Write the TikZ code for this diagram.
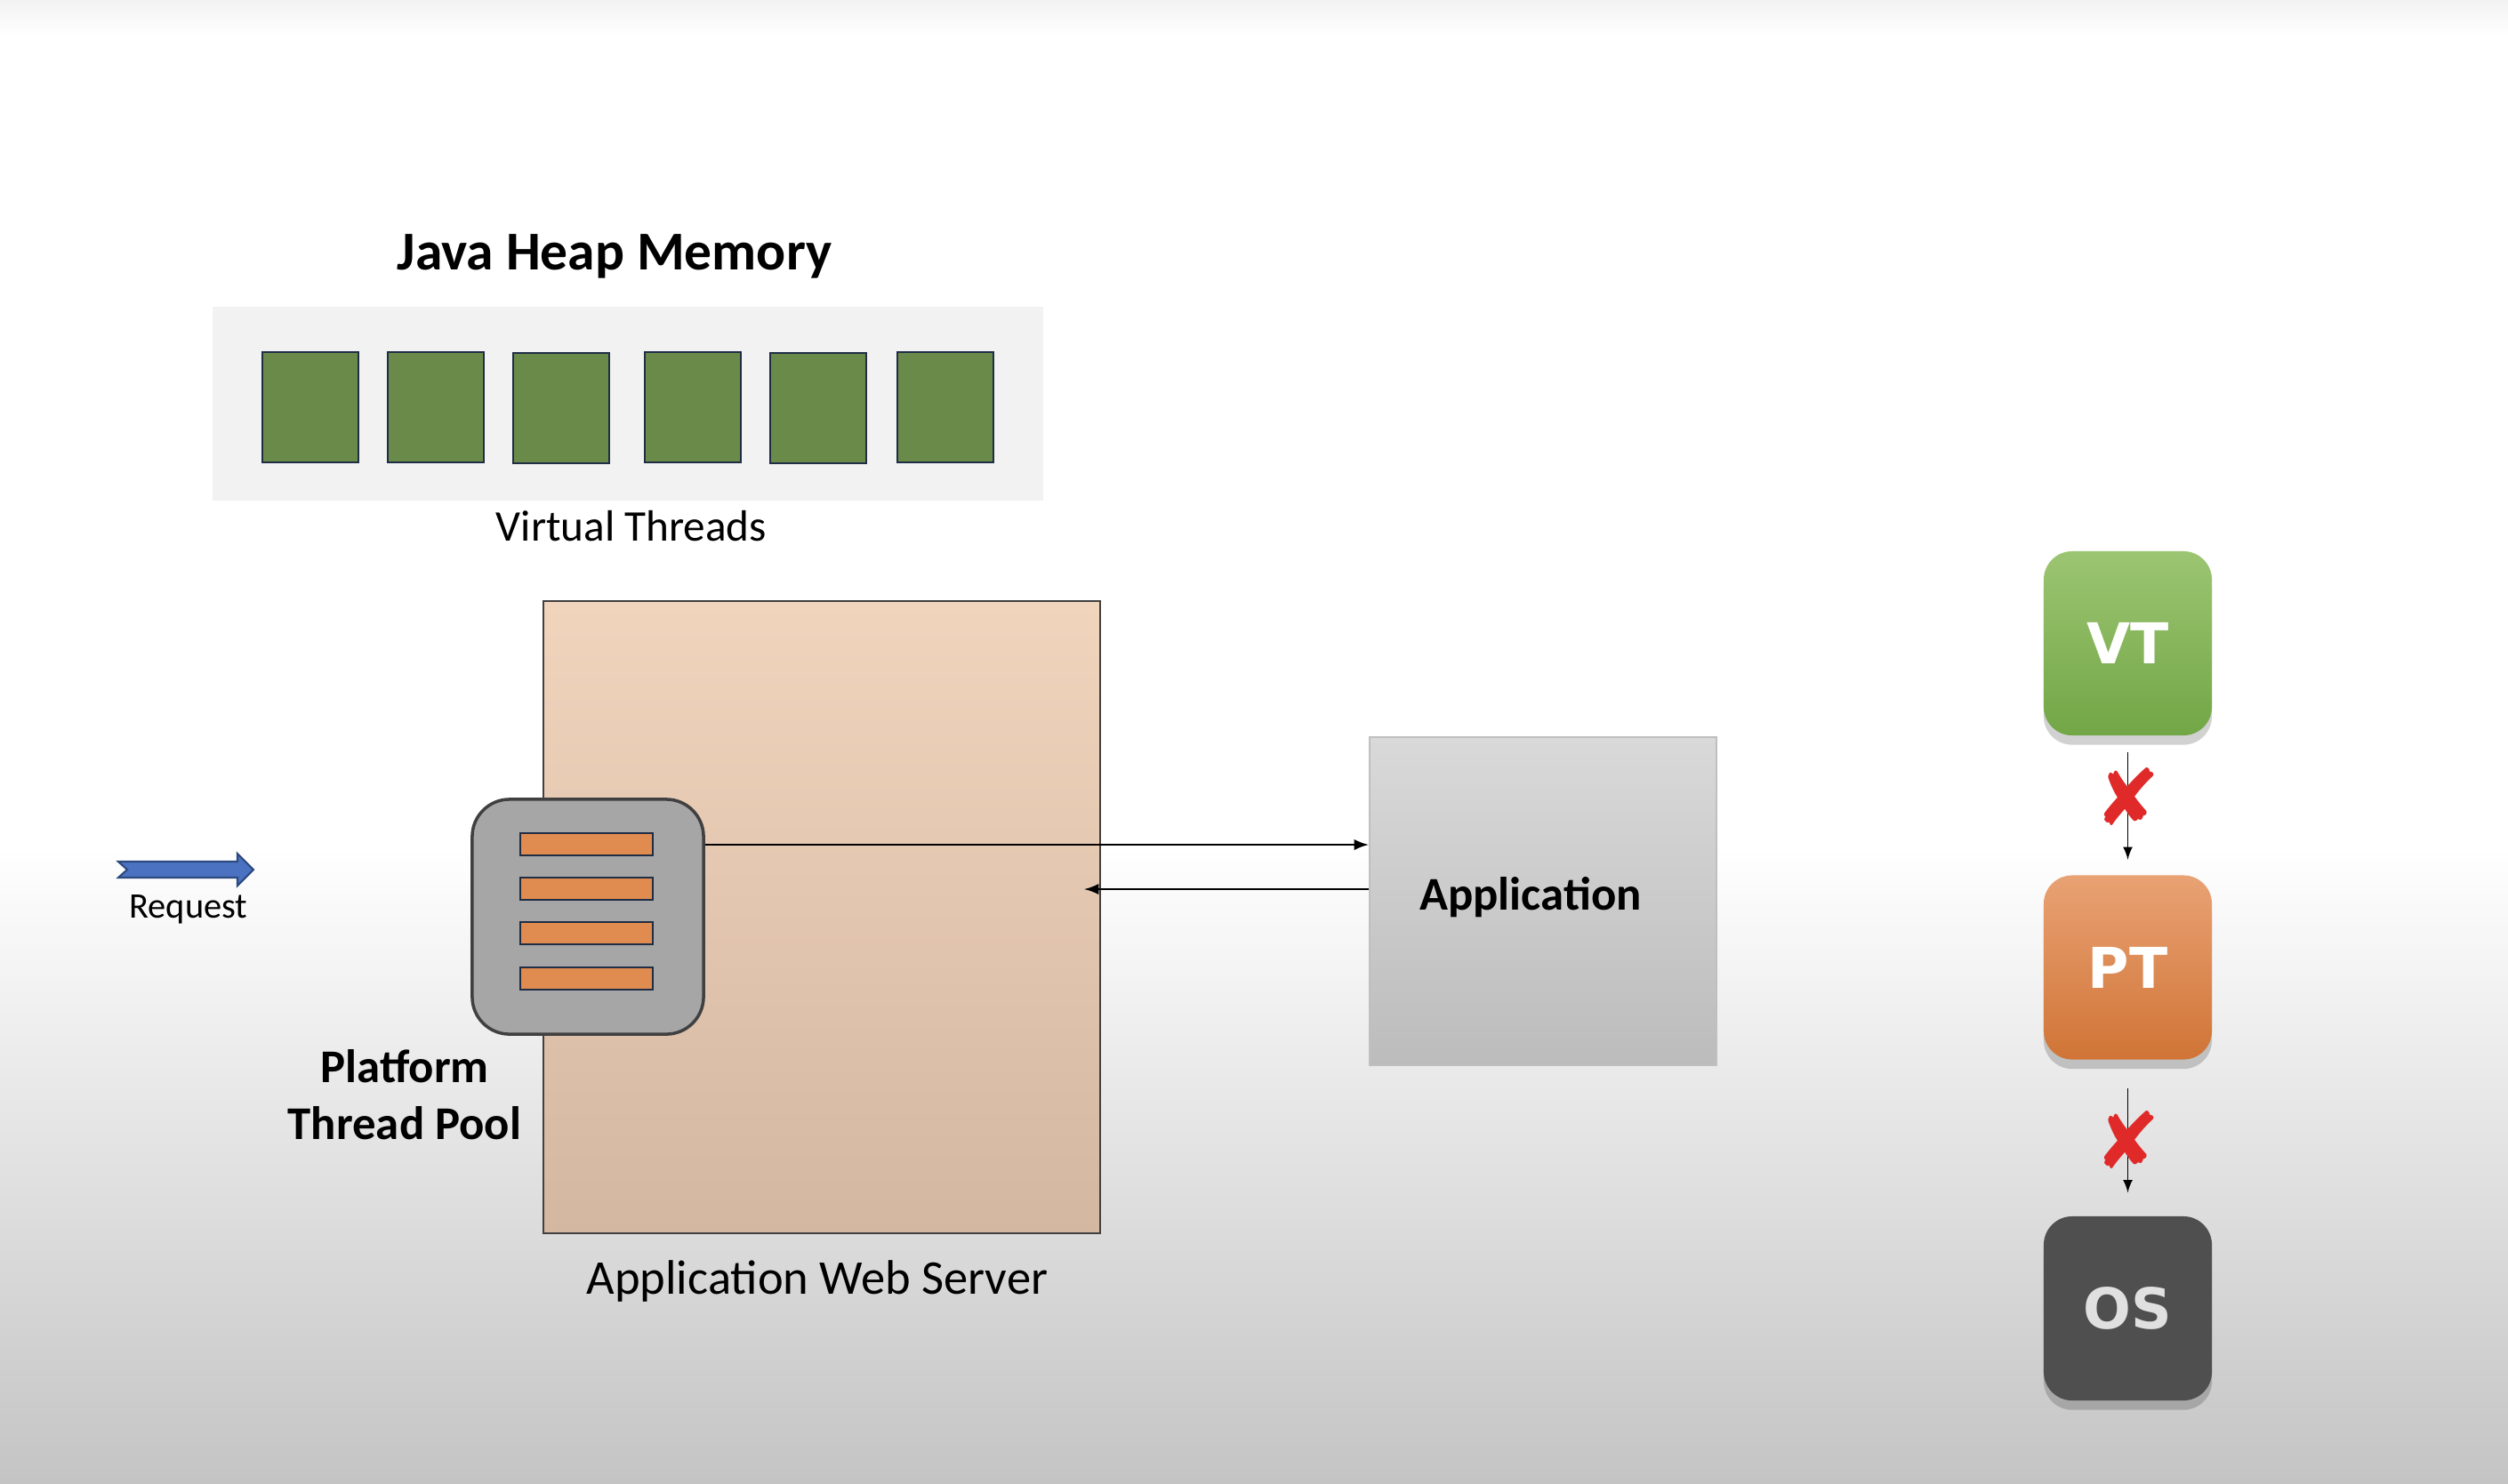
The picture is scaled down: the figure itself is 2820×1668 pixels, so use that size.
\documentclass[tikz,border=0pt]{standalone}
\usepackage{fontspec}
\setmainfont{Carlito}
\newfontfamily\tagfont{DejaVu Sans}
\usetikzlibrary{shadows}

\definecolor{bggray}{HTML}{C4C4C4}
\definecolor{panelgray}{HTML}{F2F2F2}
\definecolor{vtgreen}{HTML}{6A8A4A}
\definecolor{navy}{HTML}{1F2D45}
\definecolor{barorange}{HTML}{E08B50}
\definecolor{pooltone}{HTML}{A6A6A6}
\definecolor{servertop}{HTML}{F1D4BC}
\definecolor{serverbot}{HTML}{D4B7A1}
\definecolor{apptop}{HTML}{D9D9D9}
\definecolor{appbot}{HTML}{BCBCBC}
\definecolor{reqblue}{HTML}{4A72C0}
\definecolor{reqline}{HTML}{2C4A80}
\definecolor{vttop}{HTML}{9CC572}
\definecolor{vtbot}{HTML}{72A646}
\definecolor{pttop}{HTML}{E9A274}
\definecolor{ptbot}{HTML}{D07436}
\definecolor{osgray}{HTML}{4F4F4F}
\definecolor{crossred}{HTML}{E02A2A}

\begin{document}
\begin{tikzpicture}[x=0.01cm, y=-0.01cm,
			every path/.style={>=latex},
			vthread/.style={draw=navy, fill=vtgreen, line width=0.8pt,
				minimum width=1.08cm, minimum height=1.24cm},
			bar/.style={draw=navy, fill=barorange, line width=0.6pt,
				minimum width=1.49cm, minimum height=0.25cm},
			tag/.style={rounded corners=0.32cm, minimum width=1.89cm,
				minimum height=2.07cm, text=white,
				font=\tagfont\bfseries\fontsize{18}{20}\selectfont,
				drop shadow={shadow xshift=0pt, shadow yshift=-3pt,
					opacity=0.18, fill=black}},
			cross/.style={text=crossred, inner sep=0pt,
				font=\tagfont\fontsize{25}{25}\selectfont}]
	% page
	\useasboundingbox (0,0) rectangle (2820,1668);
	\fill[white] (0,0) rectangle (2820,1668);
	\shade[top color=white, bottom color=bggray] (0,950) rectangle (2820,1668);
	\shade[top color=black!5, bottom color=white] (0,0) rectangle (2820,40);

	% heap
	\node[font=\bfseries\fontsize{17.5}{20}\selectfont] (heap) at (691,288) {Java Heap Memory};
	\node[fill=panelgray, minimum width=9.34cm, minimum height=2.18cm] (panel) at (706,454) {};
	\node[vthread] (V1) at (349,458) {};
	\node[vthread] (V2) at (490,458) {};
	\node[vthread] (V3) at (631,459) {};
	\node[vthread] (V4) at (779,458) {};
	\node[vthread] (V5) at (920,459) {};
	\node[vthread] (V6) at (1063,458) {};
	\node[font=\fontsize{14}{16}\selectfont] (vtlabel) at (710,592) {Virtual Threads};

	% server and application
	\node[draw=black!75, line width=0.6pt, top color=servertop, bottom color=serverbot,
		minimum width=6.26cm, minimum height=7.11cm] (server) at (924,1031.5) {};
	\node[font=\fontsize{15.5}{18}\selectfont] (srvlabel) at (919,1441) {Application Web Server};
	\node[draw=black!25, line width=0.6pt, top color=apptop, bottom color=appbot,
		minimum width=3.90cm, minimum height=3.69cm] (app) at (1735,1013.5) {};
	\node[font=\bfseries\fontsize{15}{17}\selectfont] (applabel) at (1721,1009) {Application};

	% thread pool
	\node[draw=black!75, line width=1pt, fill=pooltone, rounded corners=0.42cm,
		minimum width=2.60cm, minimum height=2.64cm] (pool) at (661,1031) {};
	\node[bar] (B1) at (659.5,949.5) {};
	\node[bar] (B2) at (659.5,999.5) {};
	\node[bar] (B3) at (659.5,1049.5) {};
	\node[bar] (B4) at (659.5,1100.5) {};
	\node[font=\bfseries\fontsize{15}{18.2}\selectfont, align=center] (poollabel) at (455,1231)
		{Platform\\Thread Pool};

	\draw[->, line width=0.6pt] (pool.east |- 0,950) -- (app.west |- 0,950);
	\draw[->, line width=0.6pt, shorten >=-0.19cm] (app.west |- 0,1000) -- (server.east |- 0,1000);

	% request
	\draw[fill=reqblue, draw=reqline, line width=0.6pt]
		(133,969) -- (267,969) -- (267,960) -- (285,978) -- (267,996) -- (267,987)
		-- (133,987) -- (143,978) -- cycle;
	\node[font=\fontsize{11.5}{13}\selectfont] (reqlabel) at (212,1023) {Request};

	% thread kinds
	\node[tag, top color=vttop, bottom color=vtbot] (VT) at (2392.5,723.5) {VT};
	\node[tag, top color=pttop, bottom color=ptbot] (PT) at (2392.5,1088) {PT};
	\node[tag, fill=osgray, text=black!12] (OS) at (2392.5,1471.5) {OS};

	\path [->] (VT) edge[shorten <=0.18cm, shorten >=0.17cm] node[cross, pos=0.44] {✘} (PT);
	\path [->] (PT) edge[shorten <=0.32cm, shorten >=0.26cm] node[cross, pos=0.51] {✘} (OS);
\end{tikzpicture}
\end{document}
